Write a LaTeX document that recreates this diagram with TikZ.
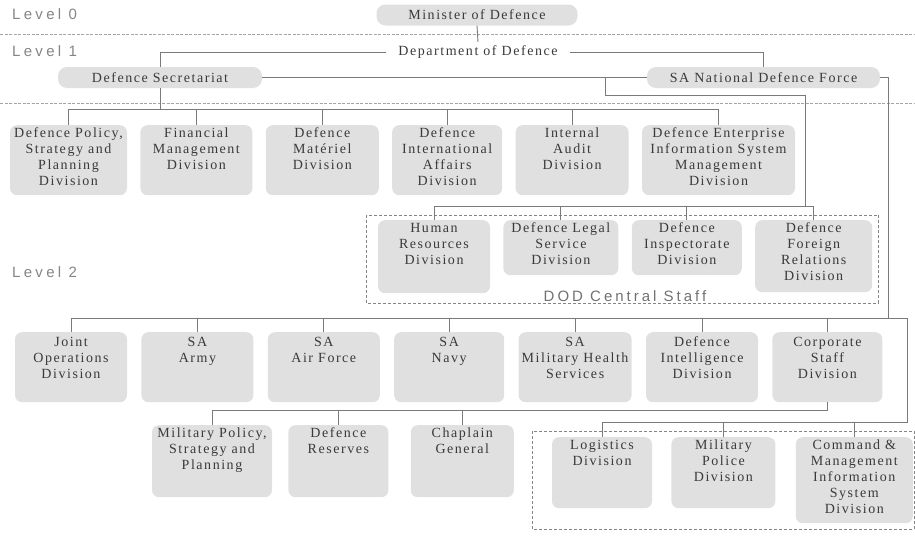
\documentclass[tikz,border=0pt]{standalone}
\usepackage{fontspec}
\setmainfont{Liberation Serif}
\newfontfamily\boxfont{Liberation Serif}[LetterSpace=11]
\newfontfamily\lvlfont{Liberation Sans}[LetterSpace=22]
\newfontfamily\grpfont{Liberation Sans}[LetterSpace=20]
\usepackage{xcolor}
\usepackage{tikz}
\usetikzlibrary{positioning, calc}
\definecolor{boxgray}{HTML}{E0E0E0}
\definecolor{linegray}{HTML}{7A7A7A}
\definecolor{textgray}{HTML}{3A3A3A}
\definecolor{lvlgray}{HTML}{858585}
% top-aligned lines inside a division box
\newcommand{\divtext}[1]{\begin{tabular}[t]{@{}c@{}}#1\end{tabular}}

\begin{document}
\begin{tikzpicture}[
    x=1pt, y=-1pt,
    every node/.style={font=\boxfont\fontsize{14}{16}\selectfont, text=textgray},
    headbox/.style={fill=boxgray, rounded corners=9pt, minimum height=21pt, inner sep=0pt},
    divbox/.style={fill=boxgray, rounded corners=7pt, anchor=north, inner xsep=0pt, inner ysep=1pt, text height=11.5pt, text depth=56.5pt},
    svcbox/.style={divbox, text height=13.5pt, text depth=54.5pt},
    level/.style={font=\lvlfont\fontsize{15}{16}\selectfont, text=lvlgray, anchor=west, inner sep=0pt},
    grplabel/.style={font=\grpfont\fontsize{15}{18}\selectfont, text=lvlgray!85!black, inner sep=0pt},
    conn/.style={draw=linegray, line width=0.9pt},
    sepline/.style={draw=lvlgray!75, line width=0.7pt, dash pattern=on 3pt off 1.5pt},
    grpframe/.style={draw=lvlgray, line width=0.7pt, dash pattern=on 3pt off 2pt},
]
\useasboundingbox (0,0) rectangle (915,536);

% ---- Level labels and separators ----
\node[level] (lvl0) at (12,14) {Level 0};
\node[level] (lvl1) at (12,51) {Level 1};
\node[level] (lvl2) at (12,272) {Level 2};
\draw[sepline] (0,34) -- (915,34);
\draw[sepline] (0,103) -- (915,103);

% ---- Level 0 / Level 1 ----
\node[headbox, minimum width=201pt] (minister) at (477,15) {Minister of Defence};
\node[inner xsep=12pt] (dod) at (478,52) {Department of Defence};
\node[headbox, minimum width=204pt] (ds) at (160,77.5) {Defence Secretariat};
\node[headbox, minimum width=233pt] (sandf) at (763.5,77.5) {SA National Defence Force};

\draw[conn] (minister.south) -- (dod.north);
\draw[conn] (dod.west) -| (ds.north);
\draw[conn] (dod.east) -| (sandf.north);
\draw[conn] (ds.east) -- (sandf.west);

% ---- Secretariat divisions ----
\node[divbox, minimum width=117pt] (dpsp) at (68.5,125) {\divtext{Defence Policy,\\Strategy and\\Planning\\Division}};
\node[divbox, minimum width=112pt, right=13pt of dpsp.north east, anchor=north west] (fmd) {\divtext{Financial\\Management\\Division}};
\node[divbox, minimum width=113pt, right=13pt of fmd.north east, anchor=north west] (dmd) {\divtext{Defence\\Matériel\\Division}};
\node[divbox, minimum width=110pt, right=13pt of dmd.north east, anchor=north west] (diad) {\divtext{Defence\\International\\Affairs\\Division}};
\node[divbox, minimum width=113pt, right=13pt of diad.north east, anchor=north west] (iad) {\divtext{Internal\\Audit\\Division}};
\node[divbox, minimum width=153pt, right=13pt of iad.north east, anchor=north west] (deis) {\divtext{Defence Enterprise\\Information System\\Management\\Division}};

\coordinate (dsbus) at ($(ds.south)+(0,21)$);
\draw[conn] (ds.south) -- (dsbus);
\draw[conn] (dpsp.north |- dsbus) -- (deis.north |- dsbus);
\foreach \n in {dpsp,fmd,dmd,diad,iad,deis}
    \draw[conn] (\n.north) -- (\n.north |- dsbus);

% ---- DOD Central Staff ----
\node[divbox, text depth=59.5pt, minimum width=112pt] (hrd) at (434,220) {\divtext{Human\\Resources\\Division}};
\node[divbox, text depth=41.5pt, minimum width=115pt, right=13pt of hrd.north east, anchor=north west] (dlsd) {\divtext{Defence Legal\\Service\\Division}};
\node[divbox, text depth=41.5pt, minimum width=110pt, right=13pt of dlsd.north east, anchor=north west] (dind) {\divtext{Defence\\Inspectorate\\Division}};
\node[divbox, text depth=58.5pt, minimum width=117pt, right=13pt of dind.north east, anchor=north west] (dfrd) {\divtext{Defence\\Foreign\\Relations\\Division}};

\draw[grpframe] ([xshift=-11pt,yshift=5pt]hrd.north west) rectangle ($(hrd.south -| dfrd.east)+(6,10)$);
\node[grplabel] (cslabel) at (625,296) {DOD Central Staff};

\coordinate (csfork) at ($(ds.east)+(343,0)$);
\coordinate (csbus) at (805,206);
\draw[conn] (csfork) -- ++(0,18) -| (csbus);
\draw[conn] (hrd.north |- csbus) -- (dfrd.north |- csbus);
\foreach \n in {hrd,dlsd,dind,dfrd}
    \draw[conn] (\n.north) -- (\n.north |- csbus);

% ---- Defence Force services ----
\node[svcbox, minimum width=112pt] (jod) at (71,332) {\divtext{Joint\\Operations\\Division}};
\node[svcbox, minimum width=112pt, right=14pt of jod.north east, anchor=north west] (saa) {\divtext{SA\\Army}};
\node[svcbox, minimum width=112pt, right=14pt of saa.north east, anchor=north west] (saaf) {\divtext{SA\\Air Force}};
\node[svcbox, minimum width=110pt, right=14pt of saaf.north east, anchor=north west] (san) {\divtext{SA\\Navy}};
\node[svcbox, minimum width=113pt, right=14pt of san.north east, anchor=north west] (samhs) {\divtext{SA\\Military Health\\Services}};
\node[svcbox, minimum width=112pt, right=14pt of samhs.north east, anchor=north west] (dint) {\divtext{Defence\\Intelligence\\Division}};
\node[svcbox, minimum width=110pt, right=14pt of dint.north east, anchor=north west] (csd) {\divtext{Corporate\\Staff\\Division}};

\coordinate (nfbus) at (888,318);
\coordinate (nfturn) at (907,318);
\coordinate (lgturn) at (907,422);
\draw[conn] (sandf.east) -| (nfbus);
\foreach \n in {jod,saa,saaf,san,samhs,dint,csd}
    \draw[conn] (\n.north) -- (\n.north |- nfbus);

% ---- Corporate staff units ----
\node[divbox, text depth=58.5pt, minimum width=120pt] (mpsp) at (212,425) {\divtext{Military Policy,\\Strategy and\\Planning}};
\node[divbox, text depth=58.5pt, minimum width=100pt, right=16pt of mpsp.north east, anchor=north west] (dr) {\divtext{Defence\\Reserves}};
\node[divbox, text depth=58.5pt, minimum width=103pt, right=22pt of dr.north east, anchor=north west] (cg) {\divtext{Chaplain\\General}};

\coordinate (csdbus) at ($(csd.south)+(0,8)$);
\draw[conn] (csd.south) -- (csdbus) -- (mpsp.north |- csdbus);
\foreach \n in {mpsp,dr,cg}
    \draw[conn] (\n.north) -- (\n.north |- csdbus);

% ---- Support divisions ----
\node[divbox, text depth=57.5pt, minimum width=100pt] (log) at (602,437) {\divtext{Logistics\\Division}};
\node[divbox, text depth=57.5pt, minimum width=104pt, right=19pt of log.north east, anchor=north west] (mpd) {\divtext{Military\\Police\\Division}};
\node[divbox, text depth=72.5pt, minimum width=117pt, right=20pt of mpd.north east, anchor=north west] (cmis) {\divtext{Command \&\\Management\\Information\\System\\Division}};

\draw[grpframe] ([xshift=-19pt,yshift=6pt]log.north west) rectangle ($(cmis.south east)+(1,6)$);

\draw[conn] (jod.north |- nfbus) -- (nfturn) -- (lgturn) -- (log.north |- lgturn);
\foreach \n in {log,mpd,cmis}
    \draw[conn] (\n.north) -- (\n.north |- lgturn);

\end{tikzpicture}
\end{document}
